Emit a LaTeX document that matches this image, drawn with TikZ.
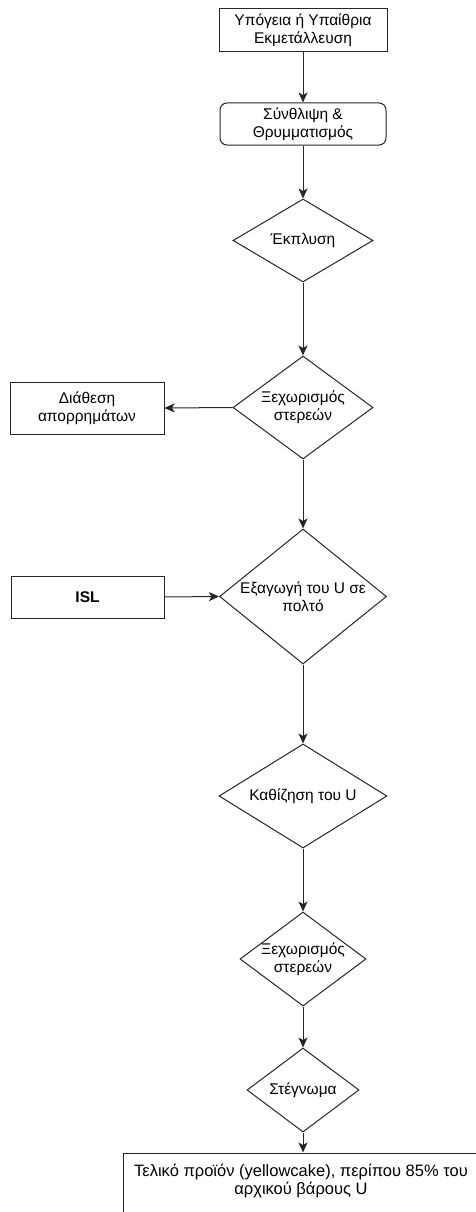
\documentclass[tikz,border=0pt]{standalone}
\usepackage{fontspec}
\setmainfont{Liberation Sans}
\usetikzlibrary{shapes.geometric,arrows.meta}
\newcommand{\fsz}{\fontsize{15.5}{18}\selectfont}
\newcommand{\fszb}{\fontsize{16.5}{18}\selectfont}
\begin{document}
\begin{tikzpicture}[x=1pt,y=-1pt,
  shapeline/.style={draw=black!85,line width=1pt},
  boxnode/.style={shapeline,rectangle,inner sep=0pt,align=center,font=\fsz},
  diamnode/.style={shapeline,diamond,inner sep=0pt},
  txt/.style={align=center,font=\fsz,inner sep=0pt},
  arr/.style={draw=black!85,line width=1pt,-{Stealth[length=10pt,width=9pt,inset=2.5pt]}}]
\useasboundingbox (0,0) rectangle (476,1212);
\clip (0,0) rectangle (476,1212);
\fill[white] (0,0) rectangle (476,1212);
% boxes
\node[boxnode,minimum width=168pt,minimum height=43pt] (n1) at (303,30.5) {Υπόγεια ή Υπαίθρια\\Εκμετάλλευση};
\node[boxnode,rounded corners=7pt,minimum width=166pt,minimum height=42pt] (n2) at (303,124) {Σύνθλιψη \&\\Θρυμματισμός};
\node[diamnode,minimum width=140pt,minimum height=83pt] (n3) at (303,240.5) {};
\node[txt] (t3) at (n3) {Έκπλυση};
\node[diamnode,minimum width=140pt,minimum height=103pt] (n4) at (303,407.5) {};
\node[txt] (t4) at (n4) {Ξεχωρισμός\\στερεών};
\node[boxnode,minimum width=154pt,minimum height=52pt] (n5) at (87,408) {Διάθεση\\απορρημάτων};
\node[diamnode,minimum width=167pt,minimum height=135pt] (n6) at (303,596.5) {};
\node[txt] (t6) at (n6) {Εξαγωγή του U σε\\πολτό};
\node[boxnode,minimum width=153pt,minimum height=42pt,font=\fsz\bfseries] (n7) at (87.5,597) {ISL};
\node[diamnode,minimum width=168pt,minimum height=104pt] (n8) at (303,796) {};
\node[txt] (t8) at (n8) {Καθίζηση του U};
\node[diamnode,minimum width=126pt,minimum height=94pt] (n9) at (303,959) {};
\node[txt] (t9) at (n9) {Ξεχωρισμός\\στερεών};
\node[diamnode,minimum width=112pt,minimum height=84pt] (n10) at (303,1090) {};
\node[txt] (t10) at (n10) {Στέγνωμα};
\node[boxnode,minimum width=356pt,minimum height=64pt] (n11) at (301,1185) {};
\node[txt,font=\fszb] (t11) at (301,1181) {Τελικό προϊόν (yellowcake), περίπου 85\% του\\αρχικού βάρους U};
% connectors
\draw[arr] (n1.south) -- (n2.north);
\draw[arr] (n2.south) -- (n3.north);
\draw[arr] (n3.south) -- (n4.north);
\draw[arr] (n4.west) -- (n5.east);
\draw[arr] (n4.south) -- (n6.north);
\draw[arr] (n7.east) -- (n6.west);
\draw[arr] (n6.south) -- (n8.north);
\draw[arr] (n8.south) -- (n9.north);
\draw[arr] (n9.south) -- (n10.north);
\draw[arr] (n10.south) -- (n10.south |- n11.north);
\end{tikzpicture}
\end{document}
